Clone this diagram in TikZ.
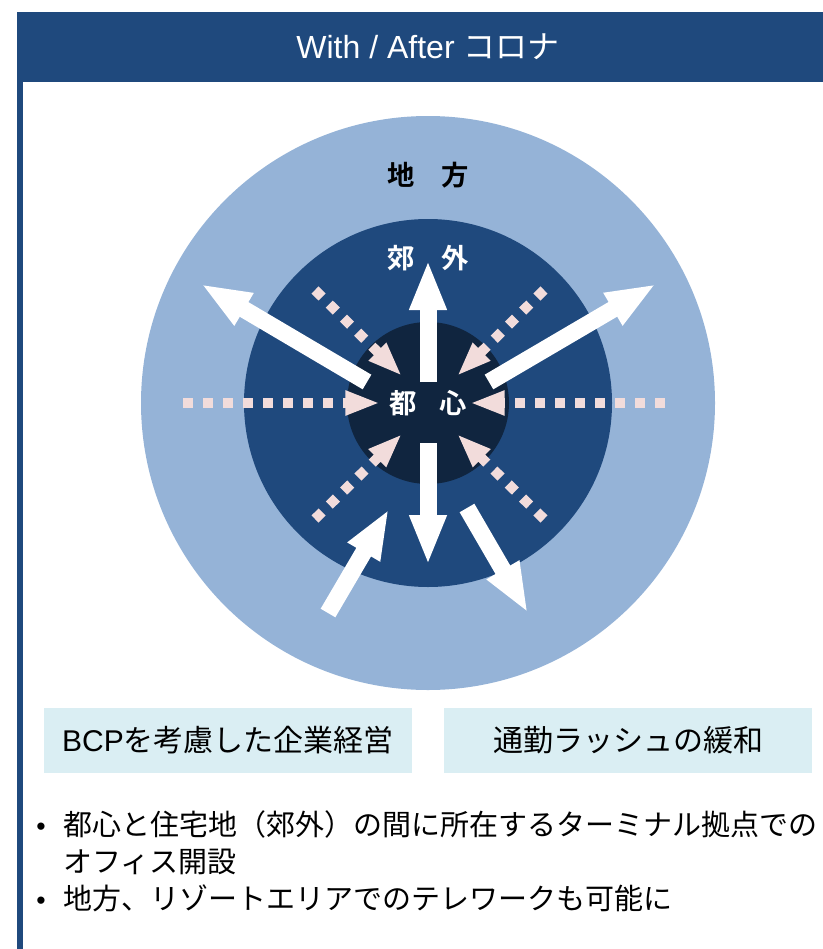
\documentclass[tikz,border=0pt]{standalone}
\usepackage{fontspec}
\setmainfont{Liberation Sans}
\newfontfamily\jpfont{Noto Sans CJK JP}
\newfontfamily\jpbold{Noto Sans CJK JP Bold}
\usetikzlibrary{arrows.meta}
\usetikzlibrary{positioning}

\definecolor{headblue}{RGB}{31,73,125}
\definecolor{ruralblue}{RGB}{149,179,215}
\definecolor{cityblue}{RGB}{16,37,63}
\definecolor{commutepink}{RGB}{242,220,219}
\definecolor{noteblue}{RGB}{218,238,243}

\tikzset{
  outflow/.style={white, line width=12.75pt, -{Triangle[length=37.5pt,width=25.5pt]}},
  inflow/.style={commutepink, line width=7.5pt, dash pattern=on 7.5pt off 7.5pt,
    -{Triangle[length=26pt,width=17pt]}},
  notebox/.style={fill=noteblue, minimum width=276pt, minimum height=48.75pt,
    inner sep=0pt, font=\fontsize{22.5}{26}\selectfont},
  ringlabel/.style={font=\jpbold\fontsize{20.5}{24}\selectfont},
  itemline/.style={anchor=base west, inner sep=0pt, font=\jpfont\fontsize{21.75}{26}\selectfont},
  itemdot/.style={anchor=base, inner sep=0pt, font=\fontsize{20}{24}\selectfont}
}

\begin{document}
\begin{tikzpicture}[x=0.75pt,y=-0.75pt]
  \useasboundingbox (0,0) rectangle (823,949);
  \fill[headblue] (17,12) rectangle (23,949);
  \fill[headblue] (17,12) rectangle (823,82);
  \node[text=white, font=\fontsize{24}{28}\selectfont] (title) at (428,47)
    {With / After {\jpfont コロナ}};

  \fill[ruralblue] (428,403) circle (215.25pt);
  \fill[headblue] (428,403) circle (138pt);
  \fill[cityblue] (428,403) circle (60.75pt);

  \coordinate (wFrom) at (183,403);  \coordinate (wTo) at (380,403);
  \coordinate (eFrom) at (665,403);  \coordinate (eTo) at (470,403);
  \coordinate (nwFrom) at (315,290); \coordinate (nwTo) at (402,376);
  \coordinate (neFrom) at (544,290); \coordinate (neTo) at (457,376);
  \coordinate (swFrom) at (315,519); \coordinate (swTo) at (402,434);
  \coordinate (seFrom) at (544,519); \coordinate (seTo) at (457,434);

  \coordinate (upTail) at (428,382);   \coordinate (upTip) at (428,260);
  \coordinate (downTail) at (428,443); \coordinate (downTip) at (428,565);
  \coordinate (nwTail) at (367,382);   \coordinate (nwTip) at (201,284);
  \coordinate (neTail) at (489,382);   \coordinate (neTip) at (656,284);
  \coordinate (swTail) at (328,613);   \coordinate (swTip) at (389,509);
  \coordinate (seTail) at (467,508);   \coordinate (seTip) at (528,613);

  \begin{scope}[inflow]
    \draw (wFrom) -- (wTo);
    \draw (eFrom) -- (eTo);
    \draw (nwFrom) -- (nwTo);
    \draw (neFrom) -- (neTo);
    \draw (swFrom) -- (swTo);
    \draw (seFrom) -- (seTo);
  \end{scope}

  \begin{scope}[outflow]
    \draw (upTail) -- (upTip);
    \draw (downTail) -- (downTip);
    \draw (nwTail) -- (nwTip);
    \draw (neTail) -- (neTip);
    \draw (swTail) -- (swTip);
    \draw (seTail) -- (seTip);
  \end{scope}

  \node[ringlabel] (rural) at (428,175) {地\hspace{1em}方};
  \node[ringlabel, text=white] (suburb) at (428,258) {郊\hspace{1em}外};
  \node[ringlabel, text=white] (downtown) at (428,403) {都\hspace{0.85em}心};

  \node[notebox] (bcp) at (228,740.5) {BCP{\jpfont を考慮した企業経営}};
  \node[notebox] (rush) at (628,740.5) {\jpfont 通勤ラッシュの緩和};

  \node[itemdot] (dotA) at (41,835) {•};
  \node[itemline] (itemA) at (63,835) {都心と住宅地（郊外）の間に所在するターミナル拠点での};
  \node[itemline] (itemAb) at (63,872) {オフィス開設};
  \node[itemdot] (dotB) at (41,909) {•};
  \node[itemline] (itemB) at (63,909) {地方、リゾートエリアでのテレワークも可能に};
\end{tikzpicture}
\end{document}
